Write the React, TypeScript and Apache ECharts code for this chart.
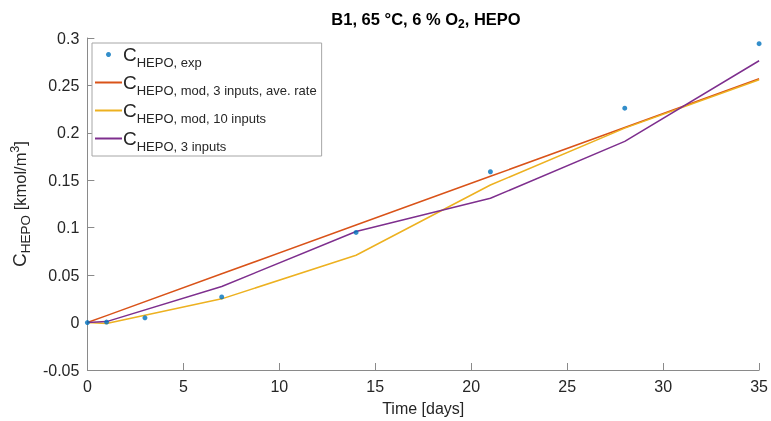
import React, { useEffect, useRef } from "react";
import * as echarts from "echarts";

const days = [0, 1, 3, 7, 14, 21, 28, 35];
const expValues = [0, 0.0005, 0.005, 0.027, 0.095, 0.159, 0.226, 0.294];
const modDays = [0, 1, 7, 14, 21, 28, 35];
const aveRateValues = [0, 0.0073, 0.0514, 0.1028, 0.1542, 0.2056, 0.257];
const tenInputValues = [0, -0.001, 0.025, 0.071, 0.145, 0.205, 0.256];
const threeInputValues = [0, 0.001, 0.038, 0.096, 0.131, 0.191, 0.276];

const seriesNames = ["exp", "ave", "ten", "three"];
const legendLabels: Record<string, string> = {
  exp: "HEPO, exp",
  ave: "HEPO, mod, 3 inputs, ave. rate",
  ten: "HEPO, mod, 10 inputs",
  three: "HEPO, 3 inputs",
};

const FONT = "Liberation Sans, Arial, sans-serif";
const TXT = "#262626";
const AXIS = "#8a8a8a";

export default function App() {
  const ref = useRef<HTMLDivElement>(null);
  useEffect(() => {
    const chart = echarts.init(ref.current!, null, { renderer: "svg" });
    const pair = (xs: number[], ys: number[]) => xs.map((x, i) => [x, ys[i]]);
    chart.setOption({
      animation: false,
      textStyle: { fontFamily: FONT },
      title: {
        text: "{t|B1, 65 °C, 6 % O}{s|2}{t|, HEPO}",
        left: 421,
        textAlign: "center",
        top: 3,
        textStyle: {
          rich: {
            t: { fontSize: 16.5, fontWeight: "bold", color: "#000", fontFamily: FONT },
            s: { fontSize: 12, fontWeight: "bold", color: "#000", fontFamily: FONT, padding: [10, 0, 0, 0] },
          },
        },
      },
      grid: { left: 84, right: 10, top: 38, bottom: 51, containLabel: false },
      legend: {
        orient: "vertical",
        left: 92,
        top: 43,
        padding: [2, 5, 3, 2],
        itemWidth: 27,
        itemHeight: 5,
        itemGap: 4,
        backgroundColor: "#fff",
        borderColor: "#a6a6a6",
        borderWidth: 1,
        data: seriesNames.map((n) =>
          n === "exp" ? { name: n } : { name: n, itemStyle: { opacity: 0 } }
        ),
        formatter: (name: string) => `{c|C}{s|${legendLabels[name]}}`,
        textStyle: {
          padding: [0, 0, 0, -4],
          rich: {
            c: { fontSize: 19, color: TXT, fontFamily: FONT },
            s: { fontSize: 13, color: TXT, fontFamily: FONT, padding: [16, 0, 0, 0] },
          },
        },
      },
      xAxis: {
        type: "value",
        min: 0,
        max: 35,
        interval: 5,
        name: "Time [days]",
        nameLocation: "middle",
        nameGap: 30,
        nameTextStyle: { fontSize: 16, color: TXT, fontFamily: FONT },
        axisLine: { show: true, onZero: false, lineStyle: { color: AXIS, width: 1 } },
        axisTick: { show: true, inside: true, length: 7, lineStyle: { color: AXIS, width: 1 } },
        axisLabel: { fontSize: 16, color: TXT, margin: 8, fontFamily: FONT },
        splitLine: { show: false },
      },
      yAxis: {
        type: "value",
        min: -0.05,
        max: 0.3,
        interval: 0.05,
        name: "{c|C}{s|HEPO}{t| [kmol/m}{p|3}{t|]}",
        nameLocation: "middle",
        nameGap: 50,
        nameRotate: 90,
        nameTextStyle: {
          rich: {
            c: { fontSize: 19, color: TXT, fontFamily: FONT },
            s: { fontSize: 13.5, color: TXT, fontFamily: FONT, padding: [11, 0, 0, 0] },
            t: { fontSize: 16.5, color: TXT, fontFamily: FONT },
            p: { fontSize: 12.5, color: TXT, fontFamily: FONT, padding: [0, 0, 10, 0] },
          },
        },
        axisLine: { show: true, onZero: false, lineStyle: { color: AXIS, width: 1 } },
        axisTick: { show: true, inside: true, length: 7, lineStyle: { color: AXIS, width: 1 } },
        axisLabel: {
          fontSize: 16,
          color: TXT,
          margin: 8,
          fontFamily: FONT,
          formatter: (v: number) => String(Number(v.toFixed(2))),
        },
        splitLine: { show: false },
      },
      series: [
        {
          name: "ave",
          type: "line",
          data: pair(modDays, aveRateValues),
          symbol: "none",
          lineStyle: { color: "#D95319", width: 1.5 },
          itemStyle: { color: "#D95319" },
          z: 2,
        },
        {
          name: "ten",
          type: "line",
          data: pair(modDays, tenInputValues),
          symbol: "none",
          lineStyle: { color: "#EDB120", width: 1.5 },
          itemStyle: { color: "#EDB120" },
          z: 3,
        },
        {
          name: "three",
          type: "line",
          data: pair(modDays, threeInputValues),
          symbol: "none",
          lineStyle: { color: "#7E2F8E", width: 1.5 },
          itemStyle: { color: "#7E2F8E" },
          z: 4,
        },
        {
          name: "exp",
          type: "scatter",
          data: pair(days, expValues),
          symbol: "circle",
          symbolSize: 5,
          itemStyle: { color: "#0072BD" },
          z: 5,
        },
      ],
    });
    return () => chart.dispose();
  }, []);
  return (
    <div
      ref={ref}
      style={{ position: "fixed", left: 0, top: 0, width: 771, height: 421 }}
    />
  );
}
